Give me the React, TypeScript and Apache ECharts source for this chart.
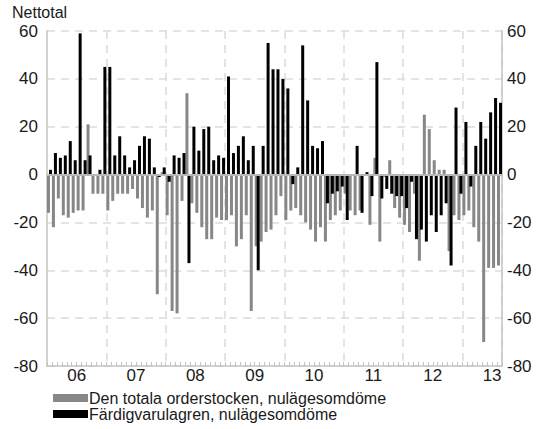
import React, { useEffect, useRef } from "react";
import * as echarts from "echarts";

// Years shown on the x axis (Jan 2006 – Aug 2013, monthly)
const years = [2006, 2007, 2008, 2009, 2010, 2011, 2012, 2013];
const yearLabels = ["06", "07", "08", "09", "10", "11", "12", "13"];
const monthsInLastYear = 8;

// Den totala orderstocken, nulägesomdöme (grey)
const orderstock2006 = [-16, -22, -10, -17, -18, -16, -15, -15, 21, -8, -8, -8];
const orderstock2007 = [-15, -11, -8, -8, -8, -6, -10, -14, -18, -15, -50, 1];
const orderstock2008 = [-17, -57, -58, -11, 34, -12, -16, -22, -27, -27, -18, -19];
const orderstock2009 = [-19, -17, -30, -27, -17, -57, -30, -28, -24, -23, -17, -9];
const orderstock2010 = [-19, -15, -14, -17, -20, -23, -28, -22, -28, -19, -17, -15];
const orderstock2011 = [-8, -15, -17, -15, 0, -21, 7, -28, -1, 6, -14, -18];
const orderstock2012 = [-21, -24, -8, -36, 25, 19, 6, 2, 2, -32, -17, -19];
const orderstock2013 = [-17, -15, -22, -28, -70, -39, -39, -38];

// Färdigvarulagren, nulägesomdöme (black)
const lager2006 = [2, 9, 7, 8, 14, 6, 59, 6, 8, 0, 2, 45];
const lager2007 = [45, 8, 16, 8, 3, 6, 12, 16, 15, 3, -1, 3];
const lager2008 = [-3, 8, 7, 9, -37, 20, 10, 19, 20, 6, 8, 7];
const lager2009 = [41, 9, 12, 16, 6, 12, -40, 12, 55, 44, 44, 40];
const lager2010 = [36, -4, 3, 54, 31, 12, 11, 14, -12, -8, -7, -5];
const lager2011 = [-19, 0, 12, -16, 1, -9, 47, -10, -6, -8, -9, -9];
const lager2012 = [-14, -3, -27, -23, -28, -17, -24, -17, -12, -38, 28, -8];
const lager2013 = [22, -5, 12, 22, 15, 26, 32, 30];

const yTicks = [-80, -60, -40, -20, 0, 20, 40, 60];
const seriesNames = [
  "Den totala orderstocken, nulägesomdöme",
  "Färdigvarulagren, nulägesomdöme",
];
const axisTitle = "Nettotal";

const FONT = "'Liberation Sans', Arial, sans-serif";

export default function App() {
  const ref = useRef<HTMLDivElement>(null);

  useEffect(() => {
    if (!ref.current) return;
    const chart = echarts.init(ref.current, undefined, { renderer: "svg" });

    const categories: string[] = [];
    years.forEach((y, yi) => {
      const n = yi === years.length - 1 ? monthsInLastYear : 12;
      for (let m = 1; m <= n; m++) categories.push(`${y}-${String(m).padStart(2, "0")}`);
    });

    const orderstock = [
      ...orderstock2006, ...orderstock2007, ...orderstock2008, ...orderstock2009,
      ...orderstock2010, ...orderstock2011, ...orderstock2012, ...orderstock2013,
    ];
    const lager = [
      ...lager2006, ...lager2007, ...lager2008, ...lager2009,
      ...lager2010, ...lager2011, ...lager2012, ...lager2013,
    ];

    const yMin = yTicks[0];
    const yMax = yTicks[yTicks.length - 1];
    const axisColor = "#c4c4c4";
    const textColor = "#1a1a1a";

    const yAxisCommon = {
      type: "value" as const,
      min: yMin,
      max: yMax,
      interval: 20,
      axisLine: { show: true, lineStyle: { color: axisColor, width: 1.5 } },
      axisTick: { show: false },
    };

    chart.setOption({
      animation: false,
      backgroundColor: "#ffffff",
      textStyle: { fontFamily: FONT },
      grid: { left: 47, right: 44, top: 31, bottom: 63, containLabel: false },
      legend: {
        orient: "vertical",
        left: 53,
        top: 390,
        padding: 0,
        itemWidth: 35,
        itemHeight: 8,
        itemGap: 0,
        icon: "rect",
        textStyle: { fontSize: 16, color: textColor, fontFamily: FONT, lineHeight: 16, padding: [0, 0, 0, -4] },
        data: seriesNames,
      },
      graphic: [
        {
          type: "text",
          left: 12,
          top: 4,
          style: { text: axisTitle, fontSize: 16, fill: textColor, fontFamily: FONT },
        },
      ],
      xAxis: {
        type: "category",
        data: categories,
        boundaryGap: true,
        position: "bottom",
        axisLine: { onZero: false, lineStyle: { color: axisColor, width: 1.5 } },
        axisTick: { show: true, inside: true, interval: 0, length: 4, lineStyle: { color: axisColor } },
        axisLabel: {
          interval: (idx: number) => idx % 12 === 6,
          formatter: (_v: string, idx: number) => yearLabels[Math.floor(idx / 12)],
          fontSize: 17,
          color: textColor,
          fontFamily: FONT,
          margin: 1,
          padding: [0, 5, 0, 0],
        },
        splitLine: {
          show: true,
          interval: (idx: number) => idx > 0 && idx % 12 === 0,
          lineStyle: { color: "#dcdcdc", type: [8, 6], width: 1.5 },
        },
      },
      yAxis: [
        {
          ...yAxisCommon,
          position: "left",
          axisLabel: { fontSize: 17, color: textColor, fontFamily: FONT, margin: 9 },
          splitLine: { show: true, lineStyle: { color: "#dcdcdc", type: [8, 6], width: 1.5 } },
        },
        {
          ...yAxisCommon,
          position: "right",
          axisLabel: { fontSize: 17, color: textColor, fontFamily: FONT, margin: 5 },
          splitLine: { show: false },
        },
      ],
      series: [
        {
          name: seriesNames[0],
          type: "bar",
          data: orderstock,
          barWidth: 3,
          barGap: "-33%",
          itemStyle: { color: "#878787" },
          z: 2,
        },
        {
          name: seriesNames[1],
          type: "bar",
          data: lager,
          barWidth: 3,
          itemStyle: { color: "#000000" },
          z: 3,
          markLine: {
            silent: true,
            symbol: ["none", "none"],
            label: { show: false },
            lineStyle: { color: "#b8b8b8", type: "solid", width: 2 },
            data: [{ yAxis: 0 }],
          },
        },
      ],
    });

    return () => chart.dispose();
  }, []);

  return <div ref={ref} style={{ width: 546, height: 429, position: "absolute", left: 0, top: 0 }} />;
}
